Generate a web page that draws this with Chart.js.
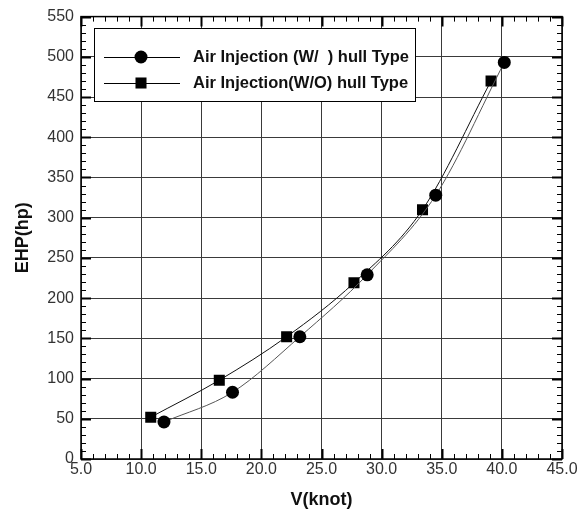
<!DOCTYPE html>
<html>
<head>
<meta charset="utf-8">
<script src="https://cdn.jsdelivr.net/npm/chart.js@4.4.1/dist/chart.umd.min.js"></script>
<style>
  html, body { margin: 0; padding: 0; background: #fff; }
  #wrap { width: 585px; height: 511px; }
</style>
</head>
<body>
<div id="wrap"><canvas id="graph" width="585" height="511"></canvas></div>
<script>
// values
const speedWith = [11.9, 17.6, 23.2, 28.8, 34.5, 40.2]
const ehpWith = [46, 83, 152, 229, 328, 493]
const speedWithout = [10.8, 16.5, 22.1, 27.7, 33.4, 39.1]
const ehpWithout = [52, 98, 152, 219, 310, 470]

const seriesLabels = ['Air Injection (W/  ) hull Type', 'Air Injection(W/O) hull Type']
const xMin = 5, xMax = 45, xStep = 5, xMinor = 1
const yMin = 0, yMax = 550, yStep = 50, yMinor = 10

const FONT = "'Liberation Sans', Arial, sans-serif"

function toPoints(xs, ys) {
    return xs.map((x, i) => ({ x: x, y: ys[i] }))
}

// little inward ticks on all four sides of the frame
const frameTicks = {
    id: 'frameTicks',
    afterDraw(chart) {
        const { ctx, chartArea: a, scales: { x, y } } = chart
        ctx.save()
        ctx.strokeStyle = '#000'
        for (let v = xMin; v <= xMax + 1e-9; v += xMinor) {
            const px = Math.round(x.getPixelForValue(v)) + 0.5
            const major = Math.abs(v % xStep) < 1e-9
            const len = major ? 10 : 5
            ctx.lineWidth = major ? 2 : 1
            ctx.beginPath()
            ctx.moveTo(px, a.bottom); ctx.lineTo(px, a.bottom - len)
            ctx.moveTo(px, a.top); ctx.lineTo(px, a.top + len)
            ctx.stroke()
        }
        for (let v = yMin; v <= yMax + 1e-9; v += yMinor) {
            const py = Math.round(y.getPixelForValue(v)) + 0.5
            const major = Math.abs(v % yStep) < 1e-9
            const len = major ? 10 : 5
            ctx.lineWidth = major ? 2 : 1
            ctx.beginPath()
            ctx.moveTo(a.left, py); ctx.lineTo(a.left + len, py)
            ctx.moveTo(a.right, py); ctx.lineTo(a.right - len, py)
            ctx.stroke()
        }
        // frame
        ctx.lineWidth = 1.5
        ctx.strokeRect(a.left, a.top, a.right - a.left, a.bottom - a.top)
        ctx.restore()
    }
}

// boxed legend in the top-left corner, line + marker per series
const boxLegend = {
    id: 'boxLegend',
    afterDraw(chart) {
        const ctx = chart.ctx
        const bx = 94.5, by = 28.5, bw = 321, bh = 73
        ctx.save()
        ctx.fillStyle = '#fff'
        ctx.fillRect(bx, by, bw, bh)
        ctx.strokeStyle = '#000'
        ctx.lineWidth = 1
        ctx.strokeRect(bx, by, bw, bh)
        chart.data.datasets.forEach((ds, i) => {
            const cy = 57 + i * 26
            ctx.strokeStyle = '#000'
            ctx.lineWidth = 1
            ctx.beginPath()
            ctx.moveTo(104, cy + 0.5); ctx.lineTo(180, cy + 0.5)
            ctx.stroke()
            ctx.fillStyle = '#000'
            Chart.helpers.drawPoint(ctx, { pointStyle: ds.pointStyle, radius: ds.pointRadius, borderWidth: 0 }, 141, cy)
            ctx.fillStyle = '#111'
            ctx.font = 'bold 16.5px ' + FONT
            ctx.textBaseline = 'middle'
            ctx.fillText(ds.label, 193, cy)
        })
        ctx.restore()
    }
}

new Chart(document.getElementById('graph'), {
    type: 'line',
    data: {
        datasets: [{
            label: seriesLabels[0],
            data: toPoints(speedWith, ehpWith),
            borderColor: '#555',
            borderWidth: 1,
            pointStyle: 'circle',
            pointRadius: 6.5,
            pointBackgroundColor: '#000',
            pointBorderColor: '#000',
            pointBorderWidth: 0,
            cubicInterpolationMode: 'monotone'
        }, {
            label: seriesLabels[1],
            data: toPoints(speedWithout, ehpWithout),
            borderColor: '#111',
            borderWidth: 1,
            pointStyle: 'rect',
            pointRadius: 7.8,
            pointBackgroundColor: '#000',
            pointBorderColor: '#000',
            pointBorderWidth: 0,
            cubicInterpolationMode: 'monotone'
        }]
    },
    options: {
        responsive: false,
        animation: false,
        layout: { padding: { left: 0, right: 23, top: 11, bottom: 0 } },
        plugins: { legend: { display: false }, tooltip: { enabled: false } },
        scales: {
            x: {
                type: 'linear',
                min: xMin, max: xMax,
                afterFit(scale) { scale.height = 52 },
                ticks: {
                    stepSize: xStep,
                    color: '#333',
                    font: { family: FONT, size: 16 },
                    padding: 1,
                    callback: v => v.toFixed(1)
                },
                grid: { color: '#3a3a3a', lineWidth: 1, drawTicks: false },
                border: { display: false },
                title: {
                    display: true, text: 'V(knot)', color: '#111',
                    font: { family: FONT, size: 18, weight: 'bold' },
                    padding: { top: 5, bottom: 0 }
                }
            },
            y: {
                type: 'linear',
                min: yMin, max: yMax,
                afterFit(scale) { scale.width = 81 },
                ticks: {
                    stepSize: yStep,
                    color: '#333',
                    font: { family: FONT, size: 16 },
                    padding: 7
                },
                grid: { color: '#3a3a3a', lineWidth: 1, drawTicks: false },
                border: { display: false },
                title: {
                    display: true, text: 'EHP(hp)', color: '#111',
                    font: { family: FONT, size: 18, weight: 'bold' },
                    padding: { top: 12, bottom: 0 }
                }
            }
        }
    },
    plugins: [frameTicks, boxLegend]
})
</script>
</body>
</html>
